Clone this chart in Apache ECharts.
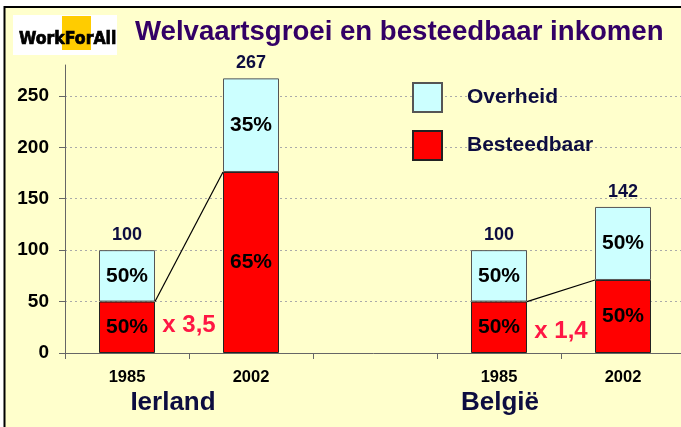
<!DOCTYPE html>
<html>
<head>
<meta charset="utf-8">
<script src="https://cdn.jsdelivr.net/npm/echarts@6/dist/echarts.min.js"></script>
<style>
  html, body { margin: 0; padding: 0; background: #fff; }
  #chart { width: 681px; height: 427px; }
</style>
</head>
<body>
<div id="chart"></div>
<script>
// categories: two countries, each 1985 / 2002, with an empty slot between them
const years = ['1985', '2002', '', '1985', '2002']
const besteedbaar = [50, 176, null, 50, 71]
const overheid = [50, 91, null, 50, 71]
const totals = [100, 267, null, 100, 142]
const shareBesteedbaar = ['50%', '65%', '', '50%', '50%']
const shareOverheid = ['50%', '35%', '', '50%', '50%']
const yTicks = [0, 50, 100, 150, 200, 250]

// growth links: [from index, to index, from value, to value, label height]
const links = [
  [0, 1, 50, 176, 27],
  [3, 4, 50, 71, 21],
]
const multipliers = ['x 3,5', 'x 1,4']

const countries = ['Ierland', 'België']

const FONT = '"Liberation Sans", Arial, sans-serif'
const BAR_WIDTH = 56
const NAVY = '#0d0d40'

const chart = echarts.init(document.getElementById('chart'))

function renderLink(params, api) {
  const a = api.coord([api.value(0), api.value(2)])
  const b = api.coord([api.value(1), api.value(3)])
  const labelY = api.coord([api.value(0), api.value(4)])[1]
  const half = BAR_WIDTH / 2
  return {
    type: 'group',
    children: [
      {
        type: 'line',
        shape: { x1: a[0] + half, y1: a[1], x2: b[0] - half, y2: b[1] },
        style: { stroke: '#000', lineWidth: 1.2 },
      },
      {
        type: 'text',
        style: {
          text: multipliers[params.dataIndex],
          x: (a[0] + b[0]) / 2,
          y: labelY,
          align: 'center',
          verticalAlign: 'middle',
          fill: '#ff1744',
          font: 'bold 24px ' + FONT,
        },
      },
    ],
  }
}

function renderTotal(params, api) {
  const p = api.coord([api.value(0), api.value(1)])
  return {
    type: 'text',
    style: {
      text: String(api.value(1)),
      x: p[0],
      y: p[1] - 6,
      align: 'center',
      verticalAlign: 'bottom',
      fill: NAVY,
      font: 'bold 18px ' + FONT,
    },
  }
}

chart.setOption({
  backgroundColor: '#fff',
  animation: false,
  graphic: [
    {
      type: 'rect',
      z: -10,
      shape: { x: 4.5, y: 7, width: 700, height: 440 },
      style: { fill: '#ffffcc', stroke: '#000', lineWidth: 2 },
    },
    {
      type: 'rect',
      shape: { x: 13, y: 15, width: 104, height: 40 },
      style: { fill: '#fff' },
    },
    {
      type: 'rect',
      shape: { x: 62, y: 16, width: 29, height: 34 },
      style: { fill: '#ffcc00' },
    },
    {
      type: 'text',
      style: {
        text: 'WorkForAll',
        x: 19,
        y: 39,
        verticalAlign: 'middle',
        fill: '#000',
        stroke: '#000',
        lineWidth: 0.7,
        font: 'bold 17.5px "DejaVu Sans Condensed", sans-serif',
      },
    },
    {
      type: 'text',
      style: {
        text: 'Welvaartsgroei en besteedbaar inkomen',
        x: 135,
        y: 32,
        verticalAlign: 'middle',
        fill: '#330066',
        font: 'bold 27.6px ' + FONT,
      },
    },
    {
      type: 'text',
      style: {
        text: countries[0],
        x: 173,
        y: 403,
        align: 'center',
        verticalAlign: 'middle',
        fill: NAVY,
        font: 'bold 26px ' + FONT,
      },
    },
    {
      type: 'text',
      style: {
        text: countries[1],
        x: 500,
        y: 403,
        align: 'center',
        verticalAlign: 'middle',
        fill: NAVY,
        font: 'bold 26px ' + FONT,
      },
    },
  ],
  legend: {
    data: ['Overheid', 'Besteedbaar'],
    orient: 'vertical',
    left: 412,
    top: 82,
    padding: 0,
    itemWidth: 29,
    itemHeight: 29,
    itemGap: 17,
    selectedMode: false,
    icon: 'rect',
    textStyle: {
      color: NAVY,
      fontFamily: FONT,
      fontWeight: 'bold',
      fontSize: 21,
      padding: [0, 0, 0, 20],
    },
  },
  grid: {
    left: 65,
    top: 65,
    width: 620,
    height: 288,
    outerBoundsMode: 'none',
  },
  xAxis: {
    type: 'category',
    data: years,
    axisLine: { lineStyle: { color: '#666' } },
    axisTick: { show: true, interval: 0, length: 6, lineStyle: { color: '#666' } },
    axisLabel: {
      interval: 0,
      margin: 16,
      color: '#000',
      fontFamily: FONT,
      fontWeight: 'bold',
      fontSize: 16.5,
    },
  },
  yAxis: {
    type: 'value',
    min: 0,
    max: 280,
    interval: 50,
    axisLine: { show: true, lineStyle: { color: '#666' } },
    axisTick: { show: true, length: 6, customValues: yTicks, lineStyle: { color: '#666' } },
    axisLabel: {
      customValues: yTicks,
      margin: 16,
      color: '#000',
      fontFamily: FONT,
      fontWeight: 'bold',
      fontSize: 19,
    },
    splitLine: {
      lineStyle: { color: '#aaa', type: [2, 3] },
    },
  },
  series: [
    {
      name: 'Besteedbaar',
      type: 'bar',
      stack: 'total',
      barWidth: BAR_WIDTH,
      data: besteedbaar,
      itemStyle: { color: '#ff0000', borderColor: '#222', borderWidth: 1 },
      label: {
        show: true,
        position: 'inside',
        formatter: (p) => shareBesteedbaar[p.dataIndex],
        color: '#000',
        fontFamily: FONT,
        fontWeight: 'bold',
        fontSize: 21,
      },
    },
    {
      name: 'Overheid',
      type: 'bar',
      stack: 'total',
      barWidth: BAR_WIDTH,
      data: overheid,
      itemStyle: { color: '#ccffff', borderColor: '#555', borderWidth: 1 },
      label: {
        show: true,
        position: 'inside',
        formatter: (p) => shareOverheid[p.dataIndex],
        color: '#000',
        fontFamily: FONT,
        fontWeight: 'bold',
        fontSize: 21,
      },
    },
    {
      name: 'totals',
      type: 'custom',
      renderItem: renderTotal,
      data: totals.map((t, i) => [i, t]).filter((d) => d[1] !== null),
      z: 5,
    },
    {
      name: 'links',
      type: 'custom',
      renderItem: renderLink,
      data: links,
      z: 5,
    },
  ],
})
</script>
</body>
</html>
